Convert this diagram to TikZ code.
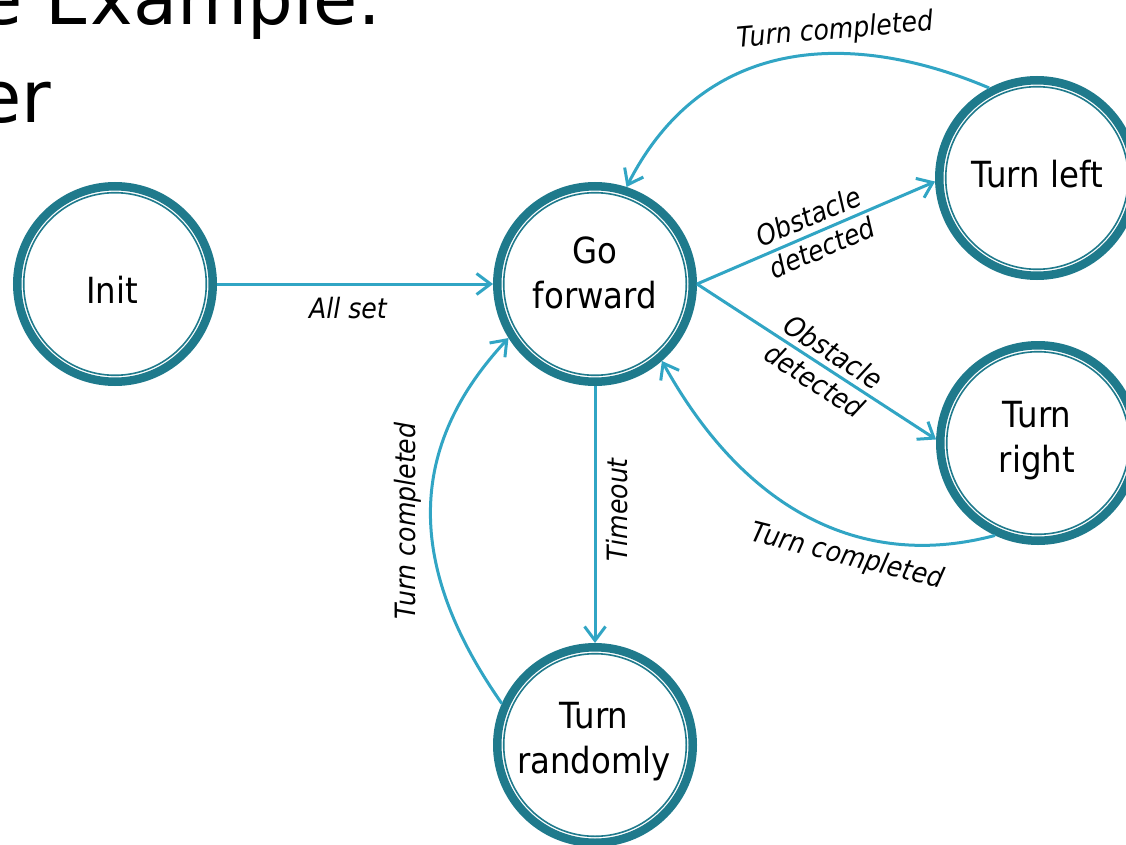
\documentclass[tikz,border=0pt]{standalone}
\usepackage{fontspec}
\setmainfont{DejaVu Sans}[FakeStretch=0.9]
\newfontfamily\titlefont{DejaVu Sans}
\usetikzlibrary{arrows.meta}
\definecolor{ringc}{HTML}{1F7A8C}
\definecolor{edgec}{HTML}{31A5C4}
\tikzset{
 state/.style={circle, draw=ringc, line width=8.5pt, fill=white, minimum size=195.5pt, inner sep=0pt},
 statetext/.style={font=\fontsize{36}{45}\selectfont, align=center, inner sep=0pt, anchor=base},
 trans/.style={draw=edgec, line width=3pt, -{Straight Barb[length=14pt,width=21pt]}},
 lbl/.style={font=\fontsize{28}{34}\selectfont\itshape, align=center, inner sep=0pt},
 titletext/.style={font=\titlefont\fontsize{72}{98}\selectfont, inner sep=0pt, anchor=base west},
}
\begin{document}
\begin{tikzpicture}[x=1pt,y=1pt]
\useasboundingbox (0,0) rectangle (1126,-845);
\clip (0,0) rectangle (1126,-845);
\node[titletext] (t1) at (-22,-25) {e Example:};
\node[titletext] (t2) at (-23,-123) {er};

\node[state] (init) at (115,-284) {};
\node[state] (go) at (595,-284) {};
\node[state] (tl) at (1037,-178) {};
\node[state] (tr) at (1038,-443) {};
\node[state] (tra) at (595,-745) {};
\foreach \n in {init,go,tl,tr,tra} \draw[ringc, line width=1.6pt] (\n.center) circle (91.3);

\node[statetext] (initT) at (112,-303) {Init};
\node[statetext] (goT) at (595,-308) {Go\\forward};
\node[statetext] (tlT) at (1037,-188) {Turn left};
\node[statetext] (trT) at (1037,-472) {Turn\\right};
\node[statetext] (traT) at (594,-773) {Turn\\randomly};

\draw[trans] (init.east) -- (go.west);
\draw[trans] (go.east) -- (tl.182);
\draw[trans] (go.east) -- (tr.178);
\draw[trans] (go.south) -- (tra.north);
\draw[trans] (tl.118) .. controls +(157:150) and +(63:170) .. (go.72);
\draw[trans] (tr.245) .. controls +(195:130) and +(299:180) .. (go.311);
\draw[trans] (tra.156) .. controls +(125:158) and +(227:158) .. (go.212);

\node[lbl] (l1) at (348,-308) {All set};
\node[lbl, rotate=23.2] (l2) at (815,-232) {Obstacle\\detected};
\node[lbl, rotate=-32.9] (l3) at (824,-366) {Obstacle\\detected};
\node[lbl, rotate=5] (l4) at (835,-31) {Turn completed};
\node[lbl, rotate=-14] (l5) at (847,-557) {Turn completed};
\node[lbl, rotate=90] (l6) at (408,-521) {Turn completed};
\node[lbl, rotate=90] (l7) at (617,-510) {Timeout};
\end{tikzpicture}
\end{document}
